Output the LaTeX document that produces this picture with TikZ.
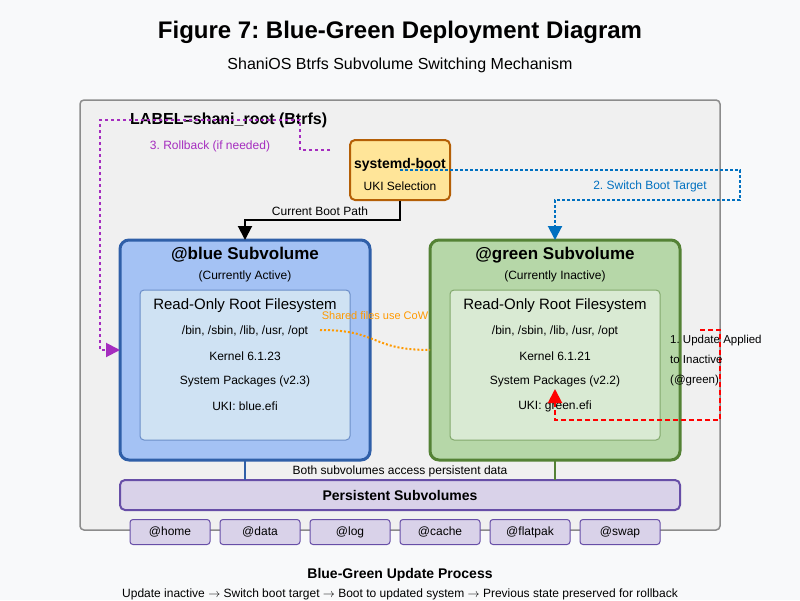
\documentclass[tikz,border=0pt]{standalone}
\usepackage{fontspec}
\setmainfont{Liberation Sans}
\usetikzlibrary{arrows.meta}
\frenchspacing
\definecolor{bg}{HTML}{F8F9FA}
\definecolor{outer}{HTML}{F0F0F0}
\definecolor{bluef}{HTML}{A4C2F4}\definecolor{blued}{HTML}{2F5FA8}
\definecolor{bluei}{HTML}{CFE2F3}\definecolor{blueib}{HTML}{6B8EC8}
\definecolor{greenf}{HTML}{B6D7A8}\definecolor{greend}{HTML}{548235}
\definecolor{greeni}{HTML}{D9EAD3}\definecolor{greenib}{HTML}{82A86C}
\definecolor{bootf}{HTML}{FFE599}\definecolor{bootd}{HTML}{B45F06}
\definecolor{persf}{HTML}{D9D2E9}\definecolor{persd}{HTML}{674EA7}
\definecolor{sw}{HTML}{0070C0}\definecolor{rb}{HTML}{A52DBF}\definecolor{cow}{HTML}{FF9900}
\tikzset{
 box/.style={draw,rounded corners=6pt},
 t/.style={font=\fontsize{12}{14}\selectfont,inner sep=0pt},
 small/.style={box,draw=persd,fill=persf,line width=1pt,minimum width=80pt,minimum height=25pt,rounded corners=3pt,font=\fontsize{12}{14}\selectfont},
 tip/.style={-{Triangle[length=14pt,width=14pt]}},
}
\begin{document}
\begin{tikzpicture}[x=1pt,y=-1pt]
\useasboundingbox[fill=bg] (0,0) rectangle (800,600);
\node[font=\bfseries\fontsize{24}{28}\selectfont] (title) at (400,32) {Figure 7: Blue-Green Deployment Diagram};
\node[font=\fontsize{16}{19}\selectfont] (sub) at (400,65) {ShaniOS Btrfs Subvolume Switching Mechanism};
\draw[fill=outer,draw=gray!90,line width=1.5pt,rounded corners=4pt] (80,100) rectangle (720,530);
% boxes
\draw[box,fill=bluef,draw=blued,line width=3pt,rounded corners=9pt] (120,240) rectangle (370,460);
\draw[box,fill=bluei,draw=blueib,line width=1pt,rounded corners=4pt] (140,290) rectangle (350,440);
\draw[box,fill=greenf,draw=greend,line width=3pt,rounded corners=9pt] (430,240) rectangle (680,460);
\draw[box,fill=greeni,draw=greenib,line width=1pt,rounded corners=4pt] (450,290) rectangle (660,440);
\node[box,fill=bootf,draw=bootd,line width=2pt,minimum width=100pt,minimum height=60pt,rounded corners=5pt] (boot) at (400,170) {};
\node[box,fill=persf,draw=persd,line width=2pt,minimum width=560pt,minimum height=30pt,rounded corners=5pt,font=\bfseries\fontsize{14}{16}\selectfont] (pers) at (400,495) {Persistent Subvolumes};
\node[t,font=\bfseries\fontsize{14}{16}\selectfont] (bt) at (400,165) {systemd-boot};
\node[t,font=\fontsize{12}{14}\selectfont] (bs) at (400,186) {UKI Selection};
% labels
\node[t,anchor=west,font=\bfseries\fontsize{16}{19}\selectfont] (lab) at (130,120) {LABEL=shani\_root (Btrfs)};
\foreach \x/\n/\k/\p/\u in {245/blue/Active/3/blue,555/green/Inactive/1/green}{
 \node[t,font=\bfseries\fontsize{17}{20}\selectfont] (\n T) at (\x,255) {@\n\ Subvolume};
 \node[t] (\n C) at (\x,276) {(Currently \k)};
 \node[t,font=\fontsize{15}{17}\selectfont] (\n R) at (\x,306) {Read-Only Root Filesystem};
 \node[t] (\n B) at (\x,331) {/bin, /sbin, /lib, /usr, /opt};
 \node[t] (\n S) at (\x,381) {System Packages (v2.\ifnum\p=3 3\else2\fi)};
 \node[t] (\n U) at (\x,406) {UKI: \u.efi};
}
\node[t] (blueK) at (245,356) {Kernel 6.1.23};
\node[t] (greenK) at (555,356) {Kernel 6.1.21};
% small boxes
\foreach \i/\n in {0/home,1/data,2/log,3/cache,4/flatpak,5/swap}
 \node[small] (s\n) at (170+90*\i,532) {@\n};
% connectors
\coordinate (bluetop) at (245,240); \coordinate (greentop) at (555,240);
\draw[line width=2pt,tip] (boot.south) |- (245,220) -- (bluetop);
\node[t] (cbp) at (320,211) {Current Boot Path};
\draw[sw,line width=2pt,dash pattern=on 3pt off 2pt,tip] (400,170) -- (740,170) -- (740,200) -- (555,200) -- (greentop);
\node[t,text=sw] (swl) at (650,186) {2. Switch Boot Target};
\coordinate (rbs) at (330,150); \coordinate (rbe) at (120,350);
\draw[rb,line width=2pt,dash pattern=on 3pt off 3pt,tip] (rbs) -- (300,150) -- (300,120) -- (100,120) -- (100,350) -- (rbe);
\node[t,text=rb] (rbl) at (210,146) {3. Rollback (if needed)};
\draw[cow,line width=2pt,dash pattern=on 2pt off 2pt] (320,330) .. controls (380,330) and (370,350) .. (430,350);
\node[t,text=cow,font=\fontsize{11}{13}\selectfont] (cowl) at (375,316) {Shared files use CoW};
\coordinate (ups) at (700,330); \coordinate (upe) at (555,389);
\draw[red,line width=2pt,dash pattern=on 5pt off 3pt,tip] (ups) -- (720,330) -- (720,420) -- (555,420) -- (upe);
\node[t,anchor=west,align=left,font=\fontsize{11.5}{20}\selectfont] (upl) at (670,361) {1. Update Applied\\to Inactive\\(@green)};
\draw[blued,line width=2pt] (245,460) -- (245,480);
\draw[greend,line width=2pt] (555,460) -- (555,480);
\node[t] (both) at (400,471) {Both subvolumes access persistent data};
\node[t,font=\bfseries\fontsize{14}{16}\selectfont] (proc) at (400,575) {Blue-Green Update Process};
\node[t] (steps) at (400,594) {Update inactive $\rightarrow$ Switch boot target $\rightarrow$ Boot to updated system $\rightarrow$ Previous state preserved for rollback};
\end{tikzpicture}
\end{document}
